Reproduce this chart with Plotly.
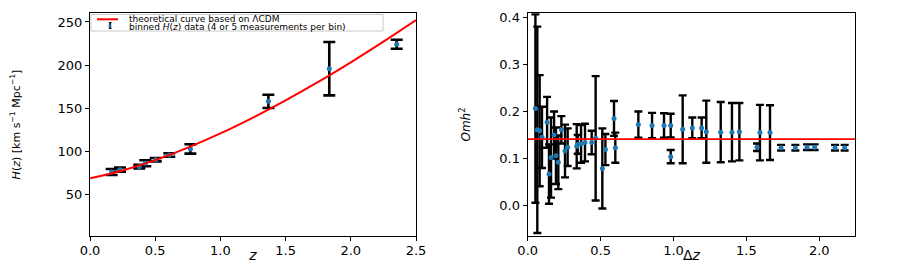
import plotly.graph_objects as go

# ---------- left panel: H(z) ----------
z_bin = [0.166, 0.230, 0.378, 0.424, 0.504, 0.608, 0.770, 1.368, 1.835, 2.352]
H_bin = [75.9, 78.6, 82.1, 86.0, 90.2, 95.6, 102.6, 157.9, 195.8, 224.1]
H_err = [3.5, 2.5, 2.0, 3.5, 2.0, 2.0, 5.4, 7.7, 31.0, 5.2]

z_curve = [0.0, 0.25, 0.5, 0.75, 1.0, 1.25, 1.5, 1.75, 2.0, 2.25, 2.5]
H_curve = [68.5, 77.7, 89.6, 104.1, 120.6, 139.0, 159.0, 180.4, 203.2, 227.2, 252.3]

legend_labels = ["theoretical curve based on ΛCDM",
                 "binned <i>H</i>(<i>z</i>) data (4 or 5 measurements per bin)"]

# ---------- right panel: Omh^2 diagnostic ----------
dz = [0.053, 0.066, 0.082, 0.098, 0.133, 0.146, 0.160, 0.181, 0.194, 0.210,
      0.231, 0.256, 0.274, 0.336, 0.343, 0.366, 0.393, 0.439, 0.466, 0.512,
      0.533, 0.592, 0.601, 0.759, 0.853, 0.935, 0.981, 0.981, 1.063, 1.129,
      1.193, 1.225, 1.324, 1.401, 1.452, 1.573, 1.593, 1.662, 1.738, 1.836,
      1.916, 1.968, 2.108, 2.174]
omh2 = [0.206, 0.161, 0.159, 0.145, 0.177, 0.067, 0.102, 0.150, 0.106, 0.092,
        0.161, 0.116, 0.124, 0.126, 0.130, 0.131, 0.134, 0.134, 0.143, 0.079,
        0.119, 0.185, 0.123, 0.172, 0.170, 0.170, 0.170, 0.104, 0.162, 0.165,
        0.165, 0.157, 0.156, 0.156, 0.157, 0.124, 0.155, 0.155, 0.123, 0.123,
        0.124, 0.124, 0.123, 0.123]
omh2_err = [0.200, 0.219, 0.118, 0.065, 0.054, 0.063, 0.085, 0.050, 0.060, 0.057,
            0.029, 0.056, 0.040, 0.047, 0.020, 0.040, 0.040, 0.025, 0.132, 0.085,
            0.033, 0.037, 0.032, 0.028, 0.027, 0.026, 0.025, 0.014, 0.072, 0.022,
            0.022, 0.066, 0.064, 0.062, 0.061, 0.008, 0.059, 0.058, 0.006, 0.006,
            0.006, 0.006, 0.006, 0.006]
omh2_ref = 0.1413

BLUE = "#1f77b4"
FONT = "DejaVu Sans"

# figure is drawn 8px in from the page corner (body margin), so size it to fill the window
W, H = 892, 255

fig = go.Figure()

fig.add_trace(go.Scatter(
    x=z_bin, y=H_bin, mode="markers",
    marker=dict(color=BLUE, size=5),
    error_y=dict(type="data", array=H_err, color="black", thickness=2.6, width=6),
    xaxis="x", yaxis="y", showlegend=False,
))
fig.add_trace(go.Scatter(
    x=z_curve, y=H_curve, mode="lines", line=dict(color="red", width=2, shape="spline"),
    xaxis="x", yaxis="y", showlegend=False,
))
fig.add_trace(go.Scatter(
    x=dz, y=omh2, mode="markers",
    marker=dict(color=BLUE, size=5),
    error_y=dict(type="data", array=omh2_err, color="black", thickness=2.4, width=4),
    xaxis="x2", yaxis="y2", showlegend=False,
))

axis_common = dict(
    showgrid=False, zeroline=False, showline=True, linecolor="black", linewidth=1.2,
    mirror=True, ticks="outside", ticklen=4, tickcolor="black", tickwidth=1,
    tickfont=dict(family=FONT, size=13, color="black"),
)

ydom = [1 - 228 / H, 1 - 5 / H]
fig.update_layout(
    width=W, height=H,
    margin=dict(l=0, r=0, t=0, b=0),
    paper_bgcolor="white", plot_bgcolor="white",
    font=dict(family=FONT, color="black"),
    showlegend=False,
    xaxis=dict(domain=[82 / W, 408 / W], range=[0, 2.5], dtick=0.5, tickformat=".1f",
               ticklabelstandoff=-2,
               title=dict(text="<i>z</i>", font=dict(size=14), standoff=8), anchor="y",
               automargin=False, **axis_common),
    yaxis=dict(domain=ydom, range=[1.6, 260.4], tickvals=[50, 100, 150, 200, 250],
               title=dict(text="<i>H</i>(<i>z</i>) [km s<sup>−1</sup> Mpc<sup>−1</sup>]",
                          font=dict(size=11), standoff=36), anchor="x",
               automargin=False, **axis_common),
    xaxis2=dict(domain=[519.7 / W, 847 / W], range=[0, 2.245], dtick=0.5, tickformat=".1f",
                ticklabelstandoff=-2,
                title=dict(text="Δ<i>z</i>", font=dict(size=14), standoff=8), anchor="y2",
                automargin=False, **axis_common),
    yaxis2=dict(domain=ydom, range=[-0.0645, 0.409], dtick=0.1, tickformat=".1f",
                title=dict(text="<i>Omh</i><sup>2</sup>", font=dict(size=12), standoff=26),
                anchor="x2", automargin=False, **axis_common),
)

fig.add_shape(type="line", xref="x2 domain", yref="y2", x0=0, x1=1,
              y0=omh2_ref, y1=omh2_ref, line=dict(color="red", width=1.6), layer="above")

# ---- compact legend box (upper left of the left panel) ----
def px(x):
    return x / W

def py(y):
    return 1 - y / H

fig.add_shape(type="rect", xref="paper", yref="paper",
              x0=px(83), x1=px(375), y0=py(23), y1=py(6.5),
              line=dict(color="#c8c8c8", width=1), fillcolor="white", layer="above")
fig.add_shape(type="line", xref="paper", yref="paper",
              x0=px(89), x1=px(110), y0=py(11.3), y1=py(11.3),
              line=dict(color="red", width=2), layer="above")
fig.add_annotation(xref="paper", yref="paper", x=px(101.5), y=py(18.3), text="<b>I</b>",
                   showarrow=False, xanchor="center", yanchor="middle",
                   font=dict(family="DejaVu Serif", size=9, color="black"))
fig.add_annotation(xref="paper", yref="paper", x=px(101.5), y=py(18.3), text="•",
                   showarrow=False, xanchor="center", yanchor="middle",
                   font=dict(family=FONT, size=9, color=BLUE))
for i, lab in enumerate(legend_labels):
    fig.add_annotation(xref="paper", yref="paper", x=px(119), y=py(11.3 + 7.5 * i), text=lab,
                       showarrow=False, xanchor="left", yanchor="middle",
                       font=dict(family=FONT, size=9, color="black"))

fig.write_html("out.html")
